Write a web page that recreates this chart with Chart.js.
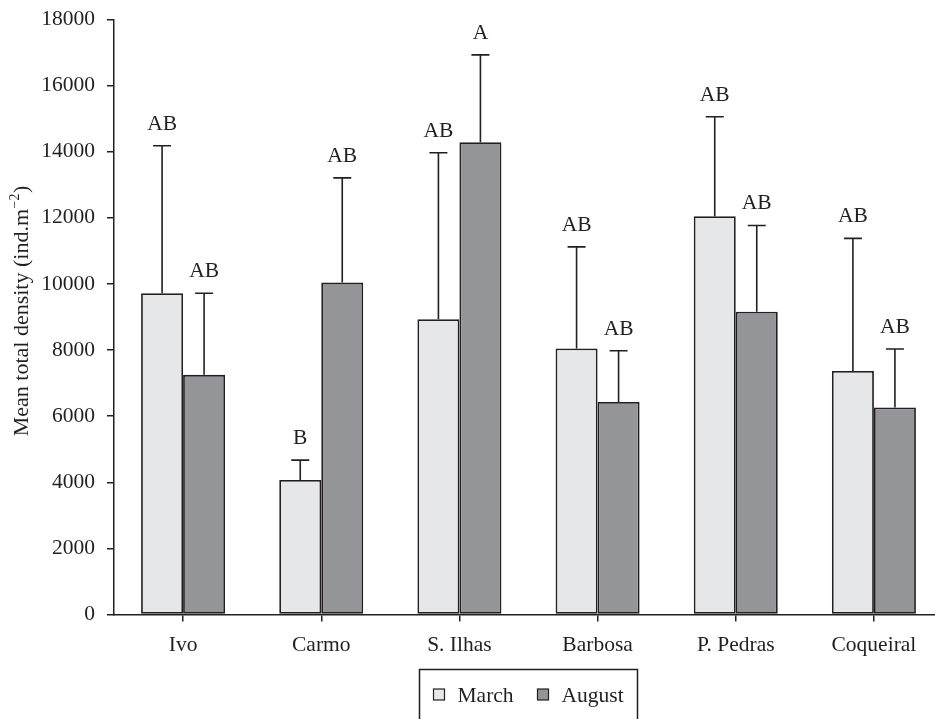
<!DOCTYPE html>
<html>
<head>
<meta charset="utf-8">
<script src="https://cdn.jsdelivr.net/npm/chart.js@4"></script>
<style>
  html, body { margin: 0; padding: 0; background: #fff; overflow: hidden; }
  #wrap { width: 943px; height: 719px; position: relative; }
</style>
</head>
<body>
<div id="wrap"><canvas id="chart"></canvas></div>
<script>
// data
const sites = ["Ivo", "Carmo", "S. Ilhas", "Barbosa", "P. Pedras", "Coqueiral"];
const marchMean = [9720, 4070, 8930, 8050, 12050, 7370];
const augustMean = [7250, 10040, 14290, 6430, 9160, 6260];
const marchSd = [4460, 600, 5040, 3070, 3010, 4010];
const augustSd = [2470, 3170, 2640, 1550, 2610, 1770];
const marchLetters = ["AB", "B", "AB", "AB", "AB", "AB"];
const augustLetters = ["AB", "AB", "A", "AB", "AB", "AB"];
const yTicks = [0, 2000, 4000, 6000, 8000, 10000, 12000, 14000, 16000, 18000];

const INK = "#231f20";
const FONT = "'Liberation Serif', 'DejaVu Serif', serif";

const sdBySet = [marchSd, augustSd];
const lettersBySet = [marchLetters, augustLetters];

// error bars (upper only) + letters above them
const errorBars = {
    id: "errorBars",
    afterDatasetsDraw(chart) {
        const ctx = chart.ctx;
        const y = chart.scales.y;
        ctx.save();
        ctx.strokeStyle = INK;
        ctx.fillStyle = INK;
        ctx.lineWidth = 1.6;
        ctx.font = "21.5px " + FONT;
        ctx.textAlign = "center";
        ctx.textBaseline = "alphabetic";
        chart.data.datasets.forEach((ds, di) => {
            const meta = chart.getDatasetMeta(di);
            meta.data.forEach((bar, i) => {
                const top = y.getPixelForValue(ds.data[i]);
                const end = y.getPixelForValue(ds.data[i] + sdBySet[di][i]);
                ctx.beginPath();
                ctx.moveTo(bar.x, top);
                ctx.lineTo(bar.x, end);
                ctx.moveTo(bar.x - 9, end);
                ctx.lineTo(bar.x + 9, end);
                ctx.stroke();
                ctx.fillText(lettersBySet[di][i], bar.x, end - 16);
            });
        });
        ctx.restore();
    }
};

// y title with a real superscript
const yTitle = {
    id: "yTitle",
    afterDraw(chart) {
        const ctx = chart.ctx;
        const parts = ["Mean total density (ind.m", "\u22122", ")"];
        const big = "22px " + FONT, small = "14px " + FONT;
        ctx.save();
        ctx.fillStyle = INK;
        ctx.textBaseline = "alphabetic";
        ctx.textAlign = "left";
        ctx.font = big;
        const w0 = ctx.measureText(parts[0]).width;
        const w2 = ctx.measureText(parts[2]).width;
        ctx.font = small;
        const w1 = ctx.measureText(parts[1]).width;
        const total = w0 + w1 + w2 + 1;
        ctx.translate(28, 311 + total / 2);
        ctx.rotate(-Math.PI / 2);
        ctx.font = big;
        ctx.fillText(parts[0], 0, 0);
        ctx.font = small;
        ctx.fillText(parts[1], w0 + 0.5, -9);
        ctx.font = big;
        ctx.fillText(parts[2], w0 + w1 + 1, 0);
        ctx.restore();
    }
};

// boxed legend under the axis
const boxedLegend = {
    id: "boxedLegend",
    afterDraw(chart) {
        const ctx = chart.ctx;
        const area = chart.chartArea;
        const cx = (area.left + area.right) / 2;
        ctx.save();
        ctx.strokeStyle = INK;
        ctx.lineWidth = 1.5;
        ctx.strokeRect(cx - 109, 669.5, 218, 70);
        ctx.font = "21.5px " + FONT;
        ctx.textBaseline = "alphabetic";
        let x = cx - 95;
        chart.data.datasets.forEach(ds => {
            ctx.fillStyle = ds.backgroundColor;
            ctx.fillRect(x, 689, 11, 11);
            ctx.lineWidth = 1.2;
            ctx.strokeRect(x, 689, 11, 11);
            ctx.fillStyle = INK;
            ctx.fillText(ds.label, x + 24, 702);
            x += 104;
        });
        ctx.restore();
    }
};

new Chart(document.getElementById("chart"), {
    type: "bar",
    data: {
        labels: sites,
        datasets: [
            {
                label: "March",
                data: marchMean,
                backgroundColor: "#e6e7e8",
                borderColor: INK,
                borderWidth: 1.8,
                borderSkipped: false,
                barPercentage: 1,
                categoryPercentage: 0.608
            },
            {
                label: "August",
                data: augustMean,
                backgroundColor: "#939598",
                borderColor: INK,
                borderWidth: 1.8,
                borderSkipped: false,
                barPercentage: 1,
                categoryPercentage: 0.608
            }
        ]
    },
    options: {
        responsive: true,
        maintainAspectRatio: false,
        devicePixelRatio: 1,
        animation: false,
        layout: { padding: { top: 19.5, right: 0, bottom: 0, left: 0 } },
        plugins: {
            legend: { display: false },
            tooltip: { enabled: false }
        },
        scales: {
            x: {
                offset: true,
                grid: {
                    offset: false,
                    drawOnChartArea: false,
                    drawTicks: true,
                    tickLength: 7,
                    color: INK,
                    lineWidth: 1.5
                },
                border: { display: true, color: INK, width: 1.5 },
                ticks: { color: INK, font: { family: FONT, size: 21.5 }, padding: 11 },
                afterFit: s => { s.height = 104.5; s.paddingLeft = 0; s.paddingRight = 0; }
            },
            y: {
                min: 0,
                max: 18000,
                afterBuildTicks: s => { s.ticks = yTicks.map(v => ({ value: v })); },
                grid: {
                    drawOnChartArea: false,
                    drawTicks: true,
                    tickLength: 7,
                    color: INK,
                    lineWidth: 1.5
                },
                border: { display: true, color: INK, width: 1.5 },
                ticks: {
                    color: INK,
                    font: { family: FONT, size: 21.5 },
                    padding: 12,
                    callback: v => String(v)
                },
                title: { display: false },
                afterFit: s => { s.width = 114; s.paddingTop = 0; s.paddingBottom = 0; }
            }
        }
    },
    plugins: [errorBars, yTitle, boxedLegend]
});
</script>
</body>
</html>
